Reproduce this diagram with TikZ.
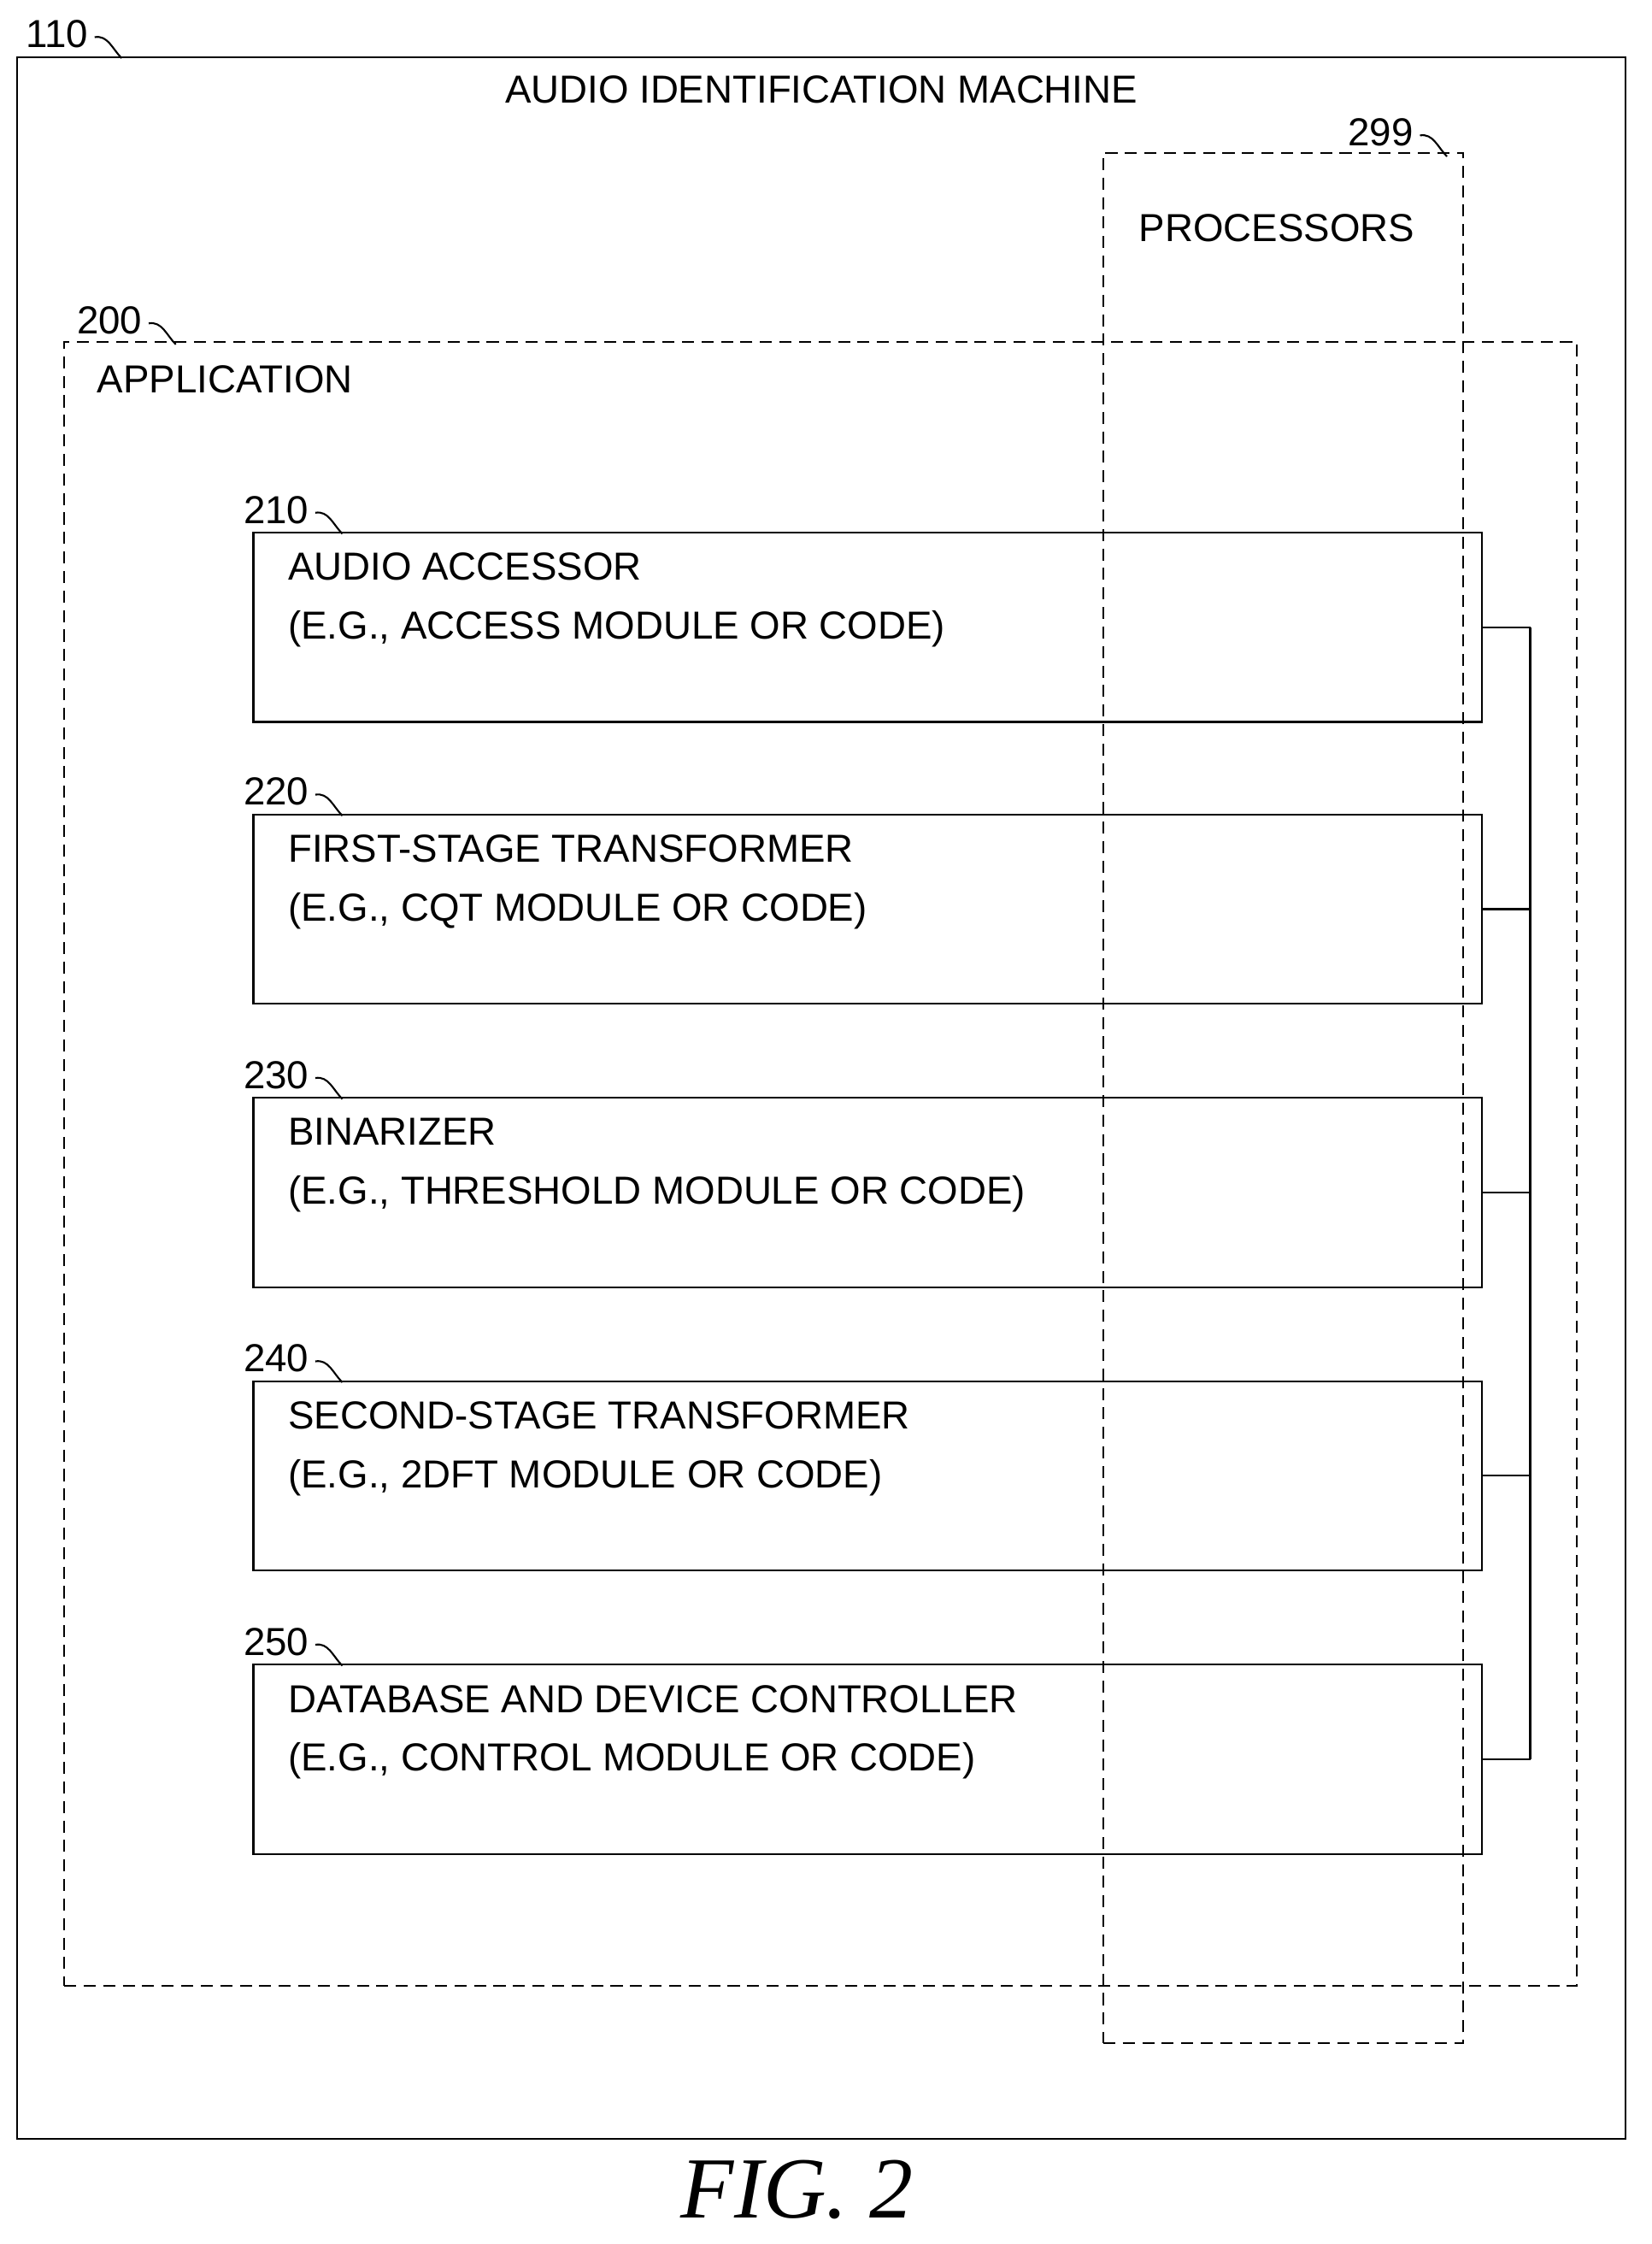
\documentclass[tikz,border=0pt]{standalone}
\usepackage{fontspec}
\setmainfont{Liberation Sans}
\usetikzlibrary{positioning}
\tikzset{frame/.style={rectangle,draw=black,line width=0.6pt,fill=none}}
\tikzset{dashframe/.style={rectangle,draw=black,line width=0.6pt,dash pattern=on 4pt off 2.5pt}}
\tikzset{module/.style={rectangle,draw=black,line width=0.6pt,
minimum width=14.38cm, minimum height=2.216cm}}
\tikzset{txt/.style={inner sep=0pt,anchor=north west,align=left,font=\fontsize{13}{19.5}\selectfont}}
\tikzset{ref/.style={inner sep=0pt,font=\fontsize{13}{15}\selectfont}}
\tikzset{tick/.style={line width=0.6pt}}
\newcommand{\reftick}[1]{\draw[tick] ([shift={(2pt,-1pt)}]#1.east) to[out=10,in=135] ++(9pt,-7pt);}

\begin{document}
\begin{tikzpicture}[x=0.01666cm,y=-0.01666cm]
    \useasboundingbox (0,0) rectangle (1160,1576);

    % machine
    \node[frame,minimum width=18.83cm,minimum height=24.36cm] (machine) at (577,771) {};
    \node[ref] (l110) at (40,24) {110};
    \reftick{l110}
    \node[ref] (title) at (577,63) {AUDIO IDENTIFICATION MACHINE};

    % application
    \node[dashframe,minimum width=17.71cm,minimum height=19.24cm] (app) at (576.5,817.5) {};
    \node[ref] (l200) at (77,225) {200};
    \reftick{l200}
    \node[txt] (apptxt) at (68,256) {APPLICATION};

    % processors
    \node[dashframe,minimum width=4.215cm,minimum height=22.12cm] (proc) at (901.5,771) {};
    \node[ref] (l299) at (970,93) {299};
    \reftick{l299}
    \node[ref] (proctxt) at (897,160) {PROCESSORS};

    % modules
    \node[module] (acc) at (609.5,440.5) {};
    \node[module] (first) at (609.5,638.5) {};
    \node[module] (bin) at (609.5,837.5) {};
    \node[module] (second) at (609.5,1036.5) {};
    \node[module] (ctrl) at (609.5,1235.5) {};

    \node[ref] (l210) at (194,358) {210};
    \reftick{l210}
    \node[ref] (l220) at (194,556) {220};
    \reftick{l220}
    \node[ref] (l230) at (194,755) {230};
    \reftick{l230}
    \node[ref] (l240) at (194,954) {240};
    \reftick{l240}
    \node[ref] (l250) at (194,1153) {250};
    \reftick{l250}

    \node[txt] (acctxt) at (202,388) {AUDIO ACCESSOR\\(E.G., ACCESS MODULE OR CODE)};
    \node[txt] (firsttxt) at (202,586) {FIRST-STAGE TRANSFORMER\\(E.G., CQT MODULE OR CODE)};
    \node[txt] (bintxt) at (202,785) {BINARIZER\\(E.G., THRESHOLD MODULE OR CODE)};
    \node[txt] (secondtxt) at (202,984) {SECOND-STAGE TRANSFORMER\\(E.G., 2DFT MODULE OR CODE)};
    \node[txt] (ctrltxt) at (202,1183) {DATABASE AND DEVICE CONTROLLER\\(E.G., CONTROL MODULE OR CODE)};

    % bus
    \coordinate (bus1) at (1075,440.5);
    \coordinate (bus2) at (1075,638.5);
    \coordinate (bus3) at (1075,837.5);
    \coordinate (bus4) at (1075,1036.5);
    \coordinate (bus5) at (1075,1235.5);
    \draw[line width=0.6pt] (acc.east) -- (bus1);
    \draw[line width=0.6pt] (first.east) -- (bus2);
    \draw[line width=0.6pt] (bin.east) -- (bus3);
    \draw[line width=0.6pt] (second.east) -- (bus4);
    \draw[line width=0.6pt] (ctrl.east) -- (bus5);
    \draw[line width=0.6pt] (bus1) -- (bus5);

    \node[inner sep=0pt,font=\fontsize{29}{31}\selectfont\fontspec{Liberation Serif}\itshape] (fig) at (560,1538) {FIG. 2};
\end{tikzpicture}
\end{document}
